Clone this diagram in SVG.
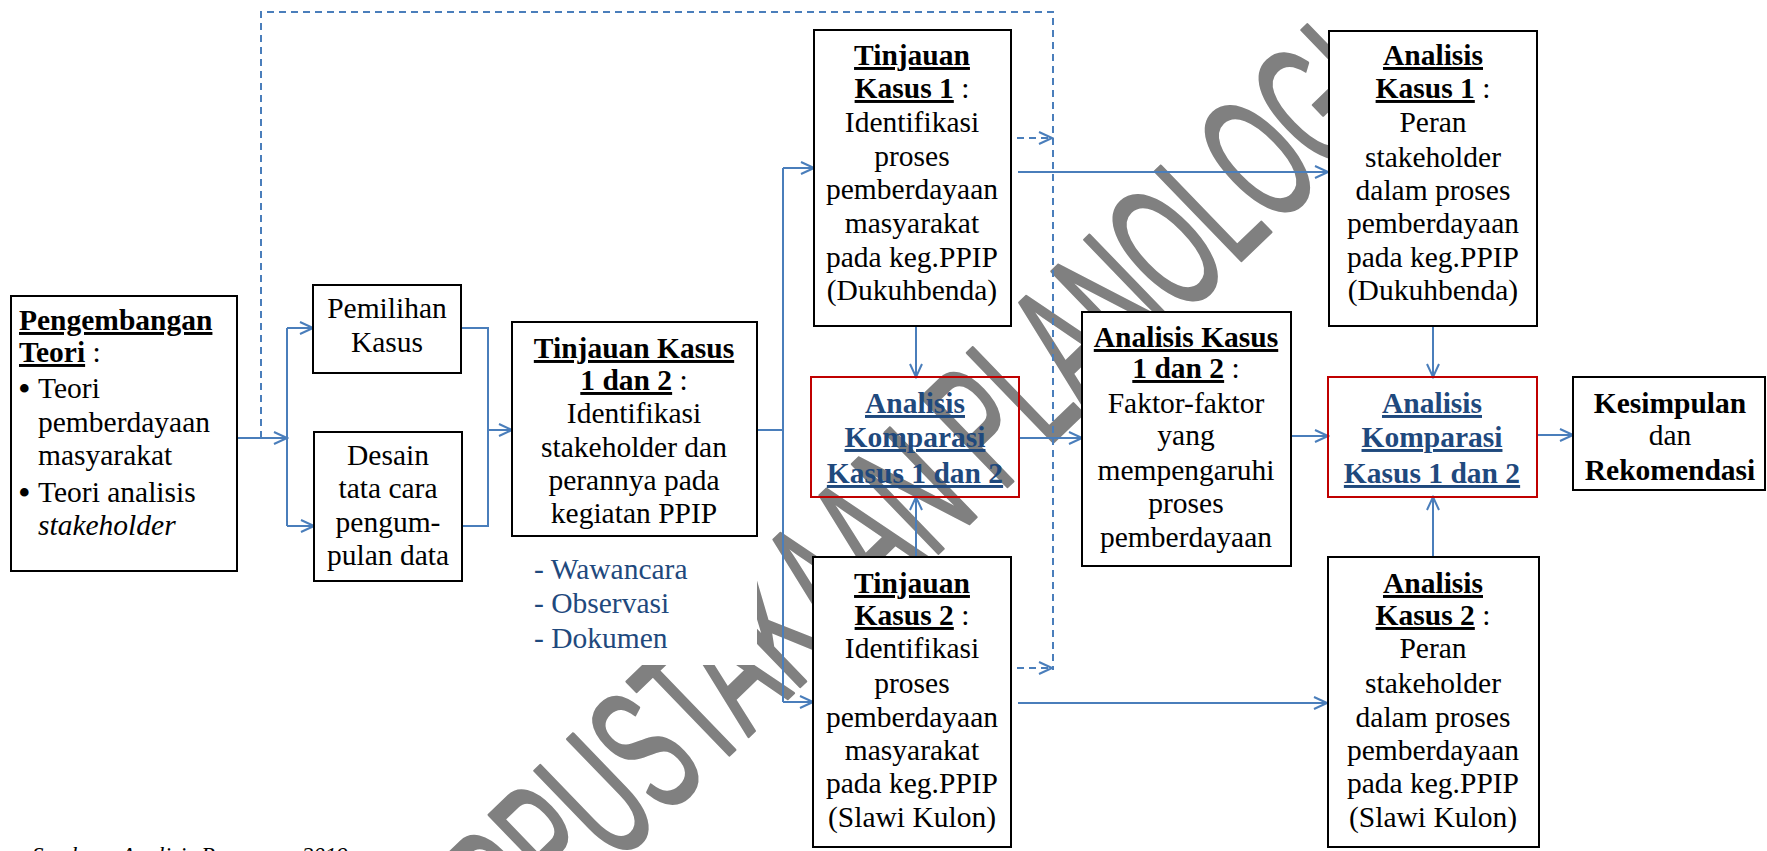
<svg xmlns="http://www.w3.org/2000/svg" width="1767" height="851" viewBox="0 0 1767 851">
<style>
.box{fill:#fff;stroke:#000;stroke-width:2}
.rbox{fill:none;stroke:#C00000;stroke-width:2}
.t{font-family:"Liberation Serif","Times New Roman",serif;font-size:29.5px;fill:#000}
.c{text-anchor:middle}
.b{font-weight:bold}
.u{text-decoration:underline}
.i{font-style:italic}
.blue{fill:#1F497D}
.bul{font-size:36px}
.ln{stroke:#4A7EBB;stroke-width:2;fill:none}
.dash{stroke-dasharray:7 5}
.wm{font-family:"Liberation Sans",Arial,sans-serif;font-size:180px;fill:#808080;stroke:#808080;stroke-width:3;stroke-linejoin:round}
</style>
<defs>
<marker id="ah" markerUnits="userSpaceOnUse" markerWidth="16" markerHeight="16" refX="14" refY="7" orient="auto" viewBox="0 0 16 14">
<path d="M1,1 L14,7 L1,13" fill="none" stroke="#4A7EBB" stroke-width="2"/>
</marker>
</defs>
<rect width="1767" height="851" fill="#fff"/>
<g id="watermark">
<text class="wm" transform="translate(427,1047) rotate(-44)" textLength="1353" lengthAdjust="spacingAndGlyphs">PERPUSTAKAAN PLANOLOGI</text>
</g>
<g id="connectors">
<path class="ln" d="M237,438 H287" marker-end="url(#ah)"/>
<path class="ln" d="M287,328 V526"/>
<path class="ln" d="M287,328 H313" marker-end="url(#ah)"/>
<path class="ln" d="M287,526 H314" marker-end="url(#ah)"/>
<path class="ln" d="M461,328 H488 V526 H462"/>
<path class="ln" d="M488,430 H512" marker-end="url(#ah)"/>
<path class="ln" d="M757,430 H783"/>
<path class="ln" d="M783,168 V702"/>
<path class="ln" d="M783,168 H814" marker-end="url(#ah)"/>
<path class="ln" d="M783,702 H813" marker-end="url(#ah)"/>
<path class="ln dash" d="M261,438 V12 H1053 V670"/>
<path class="ln dash" d="M1017,138 H1052" marker-end="url(#ah)"/>
<path class="ln dash" d="M1017,668 H1052" marker-end="url(#ah)"/>
<path class="ln" d="M1018,172 H1328" marker-end="url(#ah)"/>
<path class="ln" d="M1018,703 H1327" marker-end="url(#ah)"/>
<path class="ln" d="M916,326 V377" marker-end="url(#ah)"/>
<path class="ln" d="M916,557 V497" marker-end="url(#ah)"/>
<path class="ln" d="M1019,438 H1082" marker-end="url(#ah)"/>
<path class="ln" d="M1291,436 H1328" marker-end="url(#ah)"/>
<path class="ln" d="M1433,326 V377" marker-end="url(#ah)"/>
<path class="ln" d="M1433,557 V497" marker-end="url(#ah)"/>
<path class="ln" d="M1537,435 H1573" marker-end="url(#ah)"/>
</g>
<g id="teori">
<rect class="box" x="11" y="296" width="226" height="275"/>
<text class="t b u" x="19" y="330">Pengembangan</text>
<text class="t" x="19" y="362"><tspan class="b u">Teori</tspan> :</text>
<text class="t bul" x="18" y="401">•</text>
<text class="t" x="38" y="398">Teori</text>
<text class="t" x="38" y="432">pemberdayaan</text>
<text class="t" x="38" y="465">masyarakat</text>
<text class="t bul" x="18" y="505">•</text>
<text class="t" x="38" y="502">Teori analisis</text>
<text class="t i" x="38" y="535">stakeholder</text>
</g>
<g id="pemilihan">
<rect class="box" x="313" y="285" width="148" height="88"/>
<text class="t c" x="387" y="318">Pemilihan</text>
<text class="t c" x="387" y="352">Kasus</text>
</g>
<g id="desain">
<rect class="box" x="314" y="432" width="148" height="149"/>
<text class="t c" x="388" y="465">Desain</text>
<text class="t c" x="388" y="498">tata cara</text>
<text class="t c" x="388" y="532">pengum-</text>
<text class="t c" x="388" y="565">pulan data</text>
</g>
<g id="tinjauan12">
<rect class="box" x="512" y="322" width="245" height="214"/>
<text class="t c b u" x="634" y="358">Tinjauan Kasus</text>
<text class="t c" x="634" y="390"><tspan class="b u">1 dan 2</tspan> :</text>
<text class="t c" x="634" y="423">Identifikasi</text>
<text class="t c" x="634" y="457">stakeholder dan</text>
<text class="t c" x="634" y="490">perannya pada</text>
<text class="t c" x="634" y="523">kegiatan PPIP</text>
</g>
<g id="metode">
<rect x="512" y="540" width="245" height="125" fill="#fff"/>
<text class="t blue" x="534" y="579">- Wawancara</text>
<text class="t blue" x="534" y="613">- Observasi</text>
<text class="t blue" x="534" y="648">- Dokumen</text>
</g>
<g id="tinjauan1">
<rect class="box" x="814" y="30" width="197" height="296"/>
<text class="t c b u" x="912" y="65">Tinjauan</text>
<text class="t c" x="912" y="98"><tspan class="b u">Kasus 1</tspan> :</text>
<text class="t c" x="912" y="132">Identifikasi</text>
<text class="t c" x="912" y="166">proses</text>
<text class="t c" x="912" y="199">pemberdayaan</text>
<text class="t c" x="912" y="233">masyarakat</text>
<text class="t c" x="912" y="267">pada keg.PPIP</text>
<text class="t c" x="912" y="300">(Dukuhbenda)</text>
</g>
<g id="tinjauan2">
<rect class="box" x="813" y="557" width="198" height="290"/>
<text class="t c b u" x="912" y="593">Tinjauan</text>
<text class="t c" x="912" y="625"><tspan class="b u">Kasus 2</tspan> :</text>
<text class="t c" x="912" y="658">Identifikasi</text>
<text class="t c" x="912" y="693">proses</text>
<text class="t c" x="912" y="727">pemberdayaan</text>
<text class="t c" x="912" y="760">masyarakat</text>
<text class="t c" x="912" y="793">pada keg.PPIP</text>
<text class="t c" x="912" y="827">(Slawi Kulon)</text>
</g>
<g id="komparasi1">
<rect class="rbox" x="811" y="377" width="208" height="120"/>
<text class="t c b u blue" x="915" y="413">Analisis</text>
<text class="t c b u blue" x="915" y="447">Komparasi</text>
<text class="t c b u blue" x="915" y="483">Kasus 1 dan 2</text>
</g>
<g id="analisis12">
<rect class="box" x="1082" y="312" width="209" height="254"/>
<text class="t c b u" x="1186" y="347">Analisis Kasus</text>
<text class="t c" x="1186" y="378"><tspan class="b u">1 dan 2</tspan> :</text>
<text class="t c" x="1186" y="413">Faktor-faktor</text>
<text class="t c" x="1186" y="445">yang</text>
<text class="t c" x="1186" y="480">mempengaruhi</text>
<text class="t c" x="1186" y="513">proses</text>
<text class="t c" x="1186" y="547">pemberdayaan</text>
</g>
<g id="analisis1">
<rect class="box" x="1329" y="31" width="208" height="295"/>
<text class="t c b u" x="1433" y="65">Analisis</text>
<text class="t c" x="1433" y="98"><tspan class="b u">Kasus 1</tspan> :</text>
<text class="t c" x="1433" y="132">Peran</text>
<text class="t c" x="1433" y="167">stakeholder</text>
<text class="t c" x="1433" y="200">dalam proses</text>
<text class="t c" x="1433" y="233">pemberdayaan</text>
<text class="t c" x="1433" y="267">pada keg.PPIP</text>
<text class="t c" x="1433" y="300">(Dukuhbenda)</text>
</g>
<g id="komparasi2">
<rect class="rbox" x="1328" y="377" width="209" height="120"/>
<text class="t c b u blue" x="1432" y="413">Analisis</text>
<text class="t c b u blue" x="1432" y="447">Komparasi</text>
<text class="t c b u blue" x="1432" y="483">Kasus 1 dan 2</text>
</g>
<g id="analisis2">
<rect class="box" x="1328" y="557" width="211" height="290"/>
<text class="t c b u" x="1433" y="593">Analisis</text>
<text class="t c" x="1433" y="625"><tspan class="b u">Kasus 2</tspan> :</text>
<text class="t c" x="1433" y="658">Peran</text>
<text class="t c" x="1433" y="693">stakeholder</text>
<text class="t c" x="1433" y="727">dalam proses</text>
<text class="t c" x="1433" y="760">pemberdayaan</text>
<text class="t c" x="1433" y="793">pada keg.PPIP</text>
<text class="t c" x="1433" y="827">(Slawi Kulon)</text>
</g>
<g id="kesimpulan">
<rect class="box" x="1573" y="377" width="192" height="113"/>
<text class="t c b" x="1670" y="413">Kesimpulan</text>
<text class="t c" x="1670" y="445">dan</text>
<text class="t c b" x="1670" y="480">Rekomendasi</text>
</g>
<g id="caption">
<text class="t i" x="32" y="863" style="font-size:23px">Sumber : Analisis Penyusun, 2019</text>
</g>
</svg>
